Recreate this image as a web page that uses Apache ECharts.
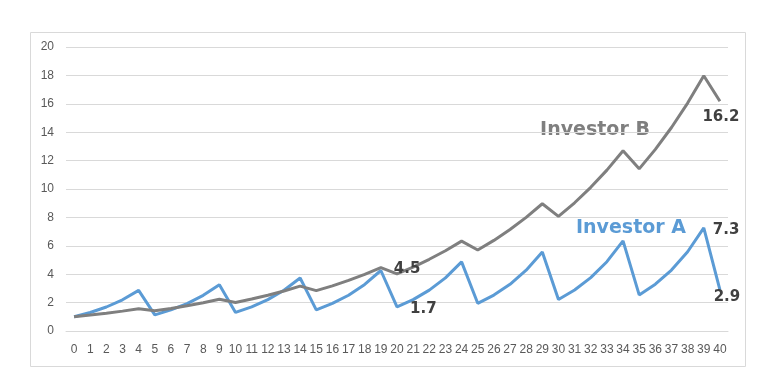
<!DOCTYPE html>
<html>
<head>
<meta charset="utf-8">
<script src="https://cdn.jsdelivr.net/npm/echarts@6/dist/echarts.min.js"></script>
<style>
html,body{margin:0;padding:0;background:#fff;}
#chart{width:776px;height:384px;}
</style>
</head>
<body>
<div id="chart"></div>
<script>
// years 0..40
var years = [];
for (var i = 0; i <= 40; i++) years.push(String(i));

var investorA = [1.00, 1.30, 1.69, 2.20, 2.86, 1.14, 1.49, 1.93, 2.51, 3.26,
                 1.31, 1.70, 2.21, 2.87, 3.73, 1.49, 1.94, 2.52, 3.28, 4.26,
                 1.70, 2.21, 2.88, 3.74, 4.87, 1.95, 2.53, 3.29, 4.28, 5.56,
                 2.22, 2.89, 3.76, 4.88, 6.35, 2.54, 3.30, 4.29, 5.58, 7.26,
                 2.90];
var investorB = [1.00, 1.12, 1.25, 1.40, 1.57, 1.42, 1.59, 1.78, 1.99, 2.23,
                 2.01, 2.25, 2.52, 2.82, 3.16, 2.84, 3.18, 3.56, 3.99, 4.47,
                 4.02, 4.50, 5.05, 5.65, 6.33, 5.70, 6.38, 7.15, 8.00, 8.96,
                 8.07, 9.03, 10.12, 11.33, 12.69, 11.42, 12.79, 14.33, 16.05, 17.98,
                 16.18];
var yTicks = [0, 2, 4, 6, 8, 10, 12, 14, 16, 18, 20];

var valueLabel = {
    show: true,
    fontFamily: 'DejaVu Sans',
    fontWeight: 'bold',
    fontSize: 15,
    color: '#404040',
    formatter: function (p) { return p.value.toFixed(1); }
};

// labels on a few points only
var labelsA = {
    20: {position: 'right', distance: 11, offset: [0, 2]},
    39: {position: 'right', distance: 7, offset: [0, 2]},
    40: {position: 'inside', offset: [7, 7]}
};
var labelsB = {
    19: {position: 'right', distance: 11, offset: [0, 2]},
    40: {position: 'bottom', distance: 4, offset: [1, 2]}
};

function withLabels(values, labels) {
    return values.map(function (v, i) {
        if (!labels[i]) return v;
        return {value: v, label: Object.assign({}, valueLabel, labels[i])};
    });
}

var myChart = echarts.init(document.getElementById('chart'));
myChart.setOption({
    animation: false,
    grid: {left: 66, right: 48, top: 47, bottom: 53},
    graphic: [
        {
            type: 'rect',
            shape: {x: 30.5, y: 32.5, width: 715, height: 334},
            style: {fill: 'none', stroke: '#d9d9d9', lineWidth: 1},
            silent: true
        },
        {
            type: 'text',
            style: {
                x: 595, y: 130, text: 'Investor B',
                textAlign: 'center', textVerticalAlign: 'middle',
                fontFamily: 'DejaVu Sans', fontWeight: 'bold', fontSize: 19,
                fill: '#7f7f7f'
            }
        },
        {
            type: 'text',
            style: {
                x: 631, y: 228, text: 'Investor A',
                textAlign: 'center', textVerticalAlign: 'middle',
                fontFamily: 'DejaVu Sans', fontWeight: 'bold', fontSize: 19,
                fill: '#5b9bd5'
            }
        }
    ],
    xAxis: {
        type: 'category',
        data: years,
        boundaryGap: true,
        axisLine: {lineStyle: {color: '#d9d9d9'}},
        axisTick: {show: false},
        axisLabel: {
            interval: 0,
            margin: 13,
            color: '#595959',
            fontFamily: 'Liberation Sans',
            fontSize: 12
        }
    },
    yAxis: {
        type: 'value',
        min: yTicks[0],
        max: yTicks[yTicks.length - 1],
        interval: 2,
        axisLine: {show: false},
        axisTick: {show: false},
        splitLine: {lineStyle: {color: '#d9d9d9'}},
        axisLabel: {
            margin: 12,
            color: '#595959',
            fontFamily: 'Liberation Sans',
            fontSize: 12
        }
    },
    series: [
        {
            name: 'Investor A',
            type: 'line',
            data: withLabels(investorA, labelsA),
            showSymbol: true,
            symbol: 'circle',
            symbolSize: 4,
            lineStyle: {color: '#5b9bd5', width: 3},
            itemStyle: {color: 'rgba(0,0,0,0)'},
            label: {show: false}
        },
        {
            name: 'Investor B',
            type: 'line',
            data: withLabels(investorB, labelsB),
            showSymbol: true,
            symbol: 'circle',
            symbolSize: 4,
            lineStyle: {color: '#7f7f7f', width: 3},
            itemStyle: {color: 'rgba(0,0,0,0)'},
            label: {show: false}
        }
    ]
});
</script>
</body>
</html>
